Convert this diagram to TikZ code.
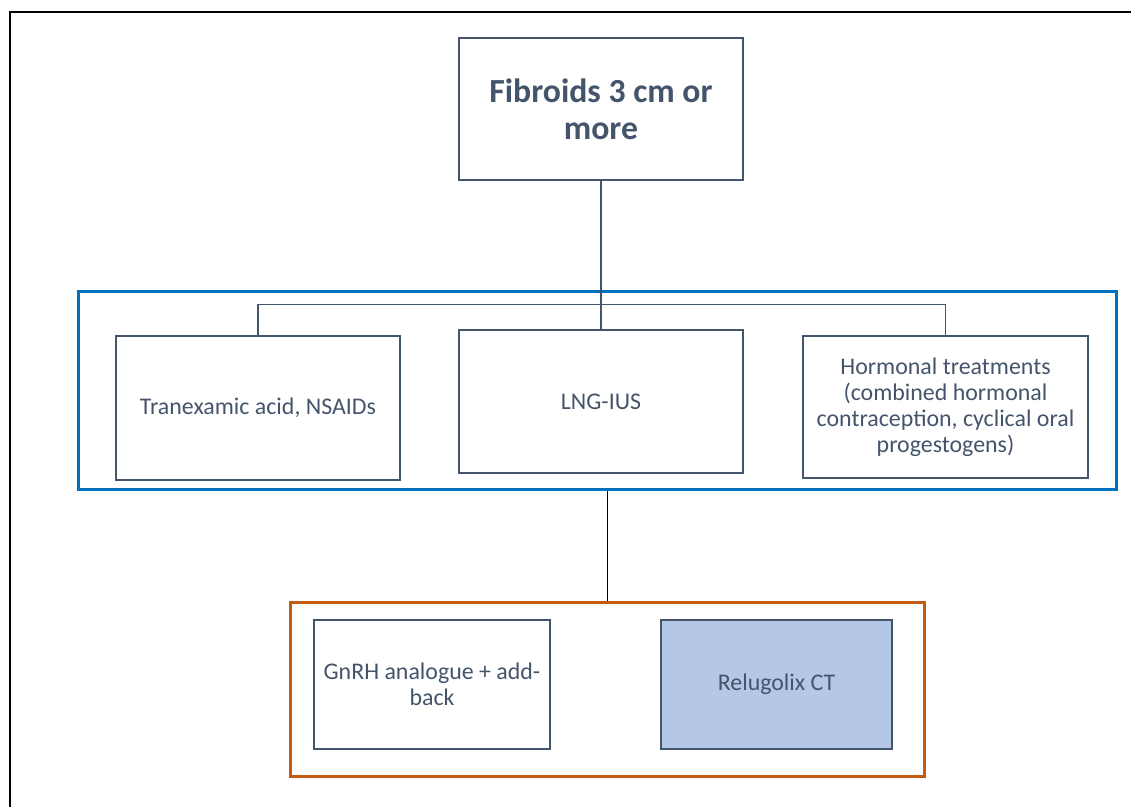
\documentclass[tikz,border=0pt]{standalone}
\usepackage{fontspec}
\setmainfont{Carlito}
\definecolor{slate}{HTML}{44546A}
\definecolor{groupblue}{HTML}{0070C0}
\definecolor{grouporange}{HTML}{C55A11}
\definecolor{paleblue}{HTML}{B4C7E7}
\tikzset{
  option/.style={draw=slate, line width=0.8pt, text=slate, align=center,
    font=\fontsize{13.6}{14.8}\selectfont, inner sep=2pt},
  group/.style={draw, line width=1.7pt, inner sep=0pt},
  link/.style={draw=slate, line width=0.8pt}
}
\begin{document}
\begin{tikzpicture}[x=0.02cm, y=-0.02cm]
\useasboundingbox (0,0) rectangle (1131,807);
% Frame
\draw[line width=1.7pt] (10,807) -- (10,12) -- (1131,12);

% Groups
\node[group, draw=groupblue, minimum width=20.78cm, minimum height=3.98cm] (first) at (597.5,390.5) {};
\node[group, draw=grouporange, minimum width=12.7cm, minimum height=3.5cm] (second) at (607.5,689.5) {};

% Title
\node[option, minimum width=5.68cm, minimum height=2.84cm, font=\fontsize{19.2}{21}\selectfont\bfseries] (fibroids) at (601,109) {Fibroids 3 cm or\\more};

% First line treatments
\node[option, minimum width=5.68cm, minimum height=2.88cm] (txa) at (258,408) {Tranexamic acid, NSAIDs};
\node[option, minimum width=5.68cm, minimum height=2.86cm] (lng) at (601,401.5) {LNG-IUS};
\node[option, minimum width=5.7cm, minimum height=2.84cm] (hormonal) at (945.5,407) {Hormonal treatments\\(combined hormonal\\contraception, cyclical oral\\progestogens)};

% Second line treatments
\node[option, minimum width=4.72cm, minimum height=2.58cm] (gnrh) at (432,684.5) {GnRH analogue + add-\\back};
\node[option, fill=paleblue, minimum width=4.62cm, minimum height=2.58cm] (relugolix) at (776.5,684.5) {Relugolix CT};

% Links
\draw[link] (fibroids.south) -- (lng.north);
\draw[link] (txa.north) -- ++(0,-31) -| (hormonal.north);
\draw[line width=0.8pt] (second.north) -- (second.north |- first.south);
\end{tikzpicture}
\end{document}
